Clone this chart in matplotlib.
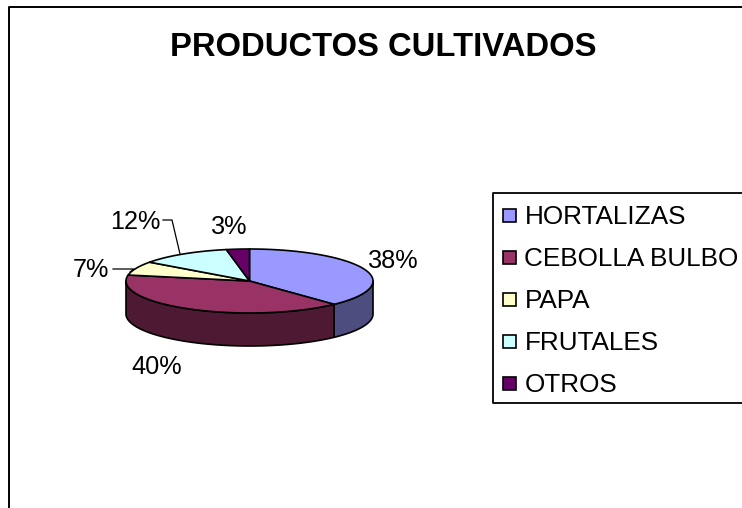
import numpy as np
import matplotlib
matplotlib.use("Agg")
import matplotlib.pyplot as plt
from matplotlib.patches import Rectangle

plt.rcParams["font.family"] = ["Liberation Sans", "DejaVu Sans"]

categories = ["HORTALIZAS", "CEBOLLA BULBO", "PAPA", "FRUTALES", "OTROS"]
values = [38, 40, 7, 12, 3]
top_colors = ["#9999FF", "#993366", "#FFFFCC", "#CCFFFF", "#660066"]
side_colors = ["#4D4D80", "#4D1933", "#80806A", "#6A8080", "#330033"]

# pie geometry, in pixels
cx, cy, rx, ry, depth = 249.5, 281, 123.5, 32, 33
label_xy = [(393, 261), (157, 367), (91, 270), (135, 222), (229, 227)]


def rim(a0, a1, n=80):
    a = np.radians(np.linspace(a0, a1, n))
    return cx + rx * np.cos(a), cy - ry * np.sin(a)


fig = plt.figure(figsize=(7.42, 5.08), dpi=100)
ax = fig.add_axes([0, 0, 1, 1])
ax.set_xlim(0, 742)
ax.set_ylim(508, 0)
ax.axis("off")

# chart frame, open to the right and bottom like the screenshot
ax.plot([8.5, 8.5, 742], [508, 6.5, 6.5], color="black", lw=1.4, solid_capstyle="butt")

ax.text(383, 47, "PRODUCTOS CULTIVADOS", fontsize=23.6, weight="bold",
        ha="center", va="center")

# wedge angles, clockwise from 12 o'clock
total = sum(values)
edges = 90 - 360 * np.cumsum([0] + values) / total

# side wall, only the front half is visible
for i in range(len(values)):
    a0, a1 = edges[i], edges[i + 1]
    lo, hi = max(a1, -180), min(a0, 0)
    if lo >= hi:
        continue
    x, y = rim(hi, lo)
    ax.fill(np.r_[x, x[::-1]], np.r_[y, y[::-1] + depth], facecolor=side_colors[i],
            edgecolor="black", lw=1.2, joinstyle="round", zorder=2)

# top face
for i in range(len(values)):
    x, y = rim(edges[i], edges[i + 1])
    ax.fill(np.r_[cx, x], np.r_[cy, y], facecolor=top_colors[i],
            edgecolor="black", lw=1.2, joinstyle="round", zorder=3)

# labels
for v, (lx, ly) in zip(values, label_xy):
    ax.text(lx, ly, f"{v}%", fontsize=18.2, ha="center", va="center", zorder=5)

# leader lines for the two small slices
ax.plot([113, 134, 130], [269, 269, 272], color="black", lw=0.9, zorder=4)
ax.plot([163, 172, 180], [220, 220, 254], color="black", lw=0.9, zorder=4)

# legend box, cut off by the right edge
ax.plot([742, 492.5, 492.5, 742], [193, 193, 402.5, 402.5], color="black", lw=1.3,
        solid_capstyle="butt")
for i, name in enumerate(categories):
    row = 215 + 42 * i
    ax.add_patch(Rectangle((502.5, row - 6.5), 13, 13, facecolor=top_colors[i],
                           edgecolor="black", lw=1.2))
    ax.text(524.5, row + 1.5, name, fontsize=18.8, ha="left", va="center")

fig.savefig("out.png", dpi=100)
